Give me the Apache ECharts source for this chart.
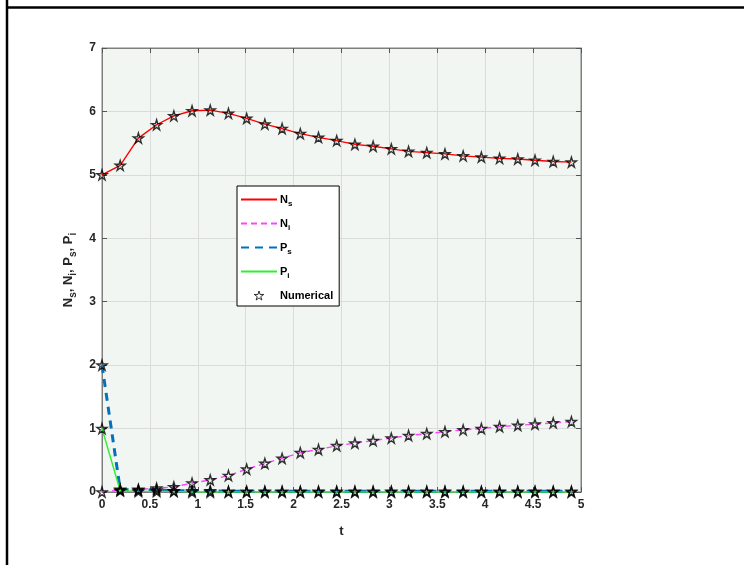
<!DOCTYPE html>
<html>
<head>
<meta charset="utf-8">
<script src="https://cdn.jsdelivr.net/npm/echarts@6/dist/echarts.min.js"></script>
<style>
  html, body { margin: 0; padding: 0; background: #fff; }
  #chart { width: 744px; height: 565px; }
</style>
</head>
<body>
<div id="chart"></div>
<script>
// Time samples of the solution
var tValues = [0, 0.19, 0.38, 0.57, 0.75, 0.94, 1.13, 1.32, 1.51, 1.70, 1.88, 2.07, 2.26, 2.45,
               2.64, 2.83, 3.02, 3.20, 3.39, 3.58, 3.77, 3.96, 4.15, 4.34, 4.52, 4.71, 4.90];
// Population components
var Ns = [5.00, 5.15, 5.58, 5.79, 5.93, 6.01, 6.02, 5.97, 5.89, 5.80, 5.73, 5.65, 5.59, 5.54,
          5.48, 5.45, 5.41, 5.37, 5.35, 5.33, 5.30, 5.28, 5.26, 5.25, 5.23, 5.21, 5.20];
var Ni = [0.00, 0.03, 0.04, 0.06, 0.08, 0.14, 0.19, 0.26, 0.36, 0.45, 0.53, 0.62, 0.67, 0.73,
          0.77, 0.81, 0.85, 0.89, 0.92, 0.95, 0.98, 1.00, 1.03, 1.05, 1.07, 1.09, 1.11];
var Ps = [2.00, 0.04, 0.03, 0.03, 0.02, 0.02, 0.02, 0.01, 0.01, 0.01, 0.01, 0.01, 0.01, 0.01,
          0.01, 0.01, 0.01, 0.01, 0.01, 0.01, 0.01, 0.01, 0.01, 0.01, 0.01, 0.01, 0.01];
var Pi = [1.00, 0.02, 0.01, 0.01, 0.01, 0.00, 0.00, 0.00, 0.00, 0.00, 0.00, 0.00, 0.00, 0.00,
          0.00, 0.00, 0.00, 0.00, 0.00, 0.00, 0.00, 0.00, 0.00, 0.00, 0.00, 0.00, 0.00];

function pairs(ys) {
  return tValues.map(function (t, i) { return [t, ys[i]]; });
}

var STAR = 'path://M50,0 L61,35 L98,35 L68,57 L79,91 L50,70 L21,91 L32,57 L2,35 L39,35 Z';
var FONT = '"Liberation Sans", Arial, sans-serif';
var AXIS_GRAY = '#7f7f7f';
var TEXT = '#262626';

var legendText = {
  Ns: '{m|N}{s|s}', Ni: '{m|N}{s|i}', Ps: '{m|P}{s|s}', Pi: '{m|P}{s|i}', Numerical: '{m|Numerical}'
};
var richText = {
  m: { fontFamily: FONT, fontSize: 11, fontWeight: 'bold', color: '#000' },
  s: { fontFamily: FONT, fontSize: 8, fontWeight: 'bold', color: '#000', padding: [9, 0, 0, 0] }
};

function lineSeries(name, ys, color, width, type) {
  return {
    name: name, type: 'line', data: pairs(ys), symbol: 'none',
    lineStyle: { color: color, width: width, type: type },
    itemStyle: { color: color },
    animation: false, z: 2
  };
}
function starSeries(ys) {
  return {
    name: 'Numerical', type: 'scatter', data: pairs(ys), symbol: STAR, symbolSize: 10,
    itemStyle: { color: 'rgba(0,0,0,0)', borderColor: '#000', borderWidth: 1.4 },
    animation: false, z: 5
  };
}

var tickStyle = { show: true, inside: true, length: 5, lineStyle: { color: '#555' } };

var chart = echarts.init(document.getElementById('chart'));
chart.setOption({
  backgroundColor: '#ffffff',
  textStyle: { fontFamily: FONT },
  grid: {
    left: 102, right: 163, top: 48, bottom: 73,
    show: true, backgroundColor: '#f1f6f2', borderColor: AXIS_GRAY, borderWidth: 1
  },
  legend: {
    orient: 'vertical', left: 237, top: 186,
    backgroundColor: '#ffffff', borderColor: '#000', borderWidth: 1, borderRadius: 0,
    padding: [8, 6, 5, 3],
    itemWidth: 36, itemHeight: 9, itemGap: 10,
    formatter: function (n) { return legendText[n]; },
    textStyle: { rich: richText, padding: [0, 0, 0, -2] },
    data: [
      { name: 'Ns', itemStyle: { opacity: 0 } },
      { name: 'Ni', itemStyle: { opacity: 0 } },
      { name: 'Ps', itemStyle: { opacity: 0 } },
      { name: 'Pi', itemStyle: { opacity: 0 } },
      { name: 'Numerical', icon: STAR, itemStyle: { color: 'rgba(0,0,0,0)', borderColor: '#000', borderWidth: 1 } }
    ]
  },
  xAxis: [{
    type: 'value', min: 0, max: 5, interval: 0.5,
    name: 't', nameLocation: 'middle', nameGap: 33,
    nameTextStyle: { fontFamily: FONT, fontSize: 13, fontWeight: 'bold', color: TEXT },
    axisLine: { show: true, onZero: false, lineStyle: { color: AXIS_GRAY } },
    axisTick: tickStyle,
    axisLabel: { fontFamily: FONT, fontSize: 12, fontWeight: 'bold', color: TEXT, margin: 7 },
    splitLine: { show: true, lineStyle: { color: '#d9dcda', width: 1 } }
  }, {
    type: 'value', min: 0, max: 5, interval: 0.5, position: 'top',
    axisLine: { show: true, onZero: false, lineStyle: { color: AXIS_GRAY } },
    axisTick: tickStyle,
    axisLabel: { show: false }, splitLine: { show: false }
  }],
  yAxis: [{
    type: 'value', min: 0, max: 7, interval: 1,
    name: '{m|N}{s|s}{m|, N}{s|i}{m|, P}{s|s}{m|, P}{s|i}',
    nameLocation: 'middle', nameGap: 22, nameRotate: 90,
    nameTextStyle: {
      rich: {
        m: { fontFamily: FONT, fontSize: 13, fontWeight: 'bold', color: TEXT },
        s: { fontFamily: FONT, fontSize: 10, fontWeight: 'bold', color: TEXT, padding: [10, 0, 0, 0] }
      }
    },
    axisLine: { show: true, onZero: false, lineStyle: { color: AXIS_GRAY } },
    axisTick: tickStyle,
    axisLabel: { fontFamily: FONT, fontSize: 12, fontWeight: 'bold', color: TEXT, margin: 6 },
    splitLine: { show: true, lineStyle: { color: '#d9dcda', width: 1 } }
  }, {
    type: 'value', min: 0, max: 7, interval: 1, position: 'right',
    axisLine: { show: true, onZero: false, lineStyle: { color: AXIS_GRAY } },
    axisTick: tickStyle,
    axisLabel: { show: false }, splitLine: { show: false }
  }],
  series: [
    lineSeries('Ns', Ns, '#ff0000', 1.4, 'solid'),
    lineSeries('Ni', Ni, '#ff44ff', 1.4, [6, 4]),
    lineSeries('Ps', Ps, '#0072bd', 3, [8, 6]),
    lineSeries('Pi', Pi, '#2ef02e', 1.4, 'solid'),
    starSeries(Ns), starSeries(Ni), starSeries(Ps), starSeries(Pi)
  ],
  graphic: [
    { type: 'line', shape: { x1: 7, y1: 0, x2: 7, y2: 565 }, style: { stroke: '#000', lineWidth: 2.5 }, silent: true },
    { type: 'line', shape: { x1: 7, y1: 7.5, x2: 744, y2: 7.5 }, style: { stroke: '#000', lineWidth: 2.5 }, silent: true }
  ]
});
</script>
</body>
</html>
